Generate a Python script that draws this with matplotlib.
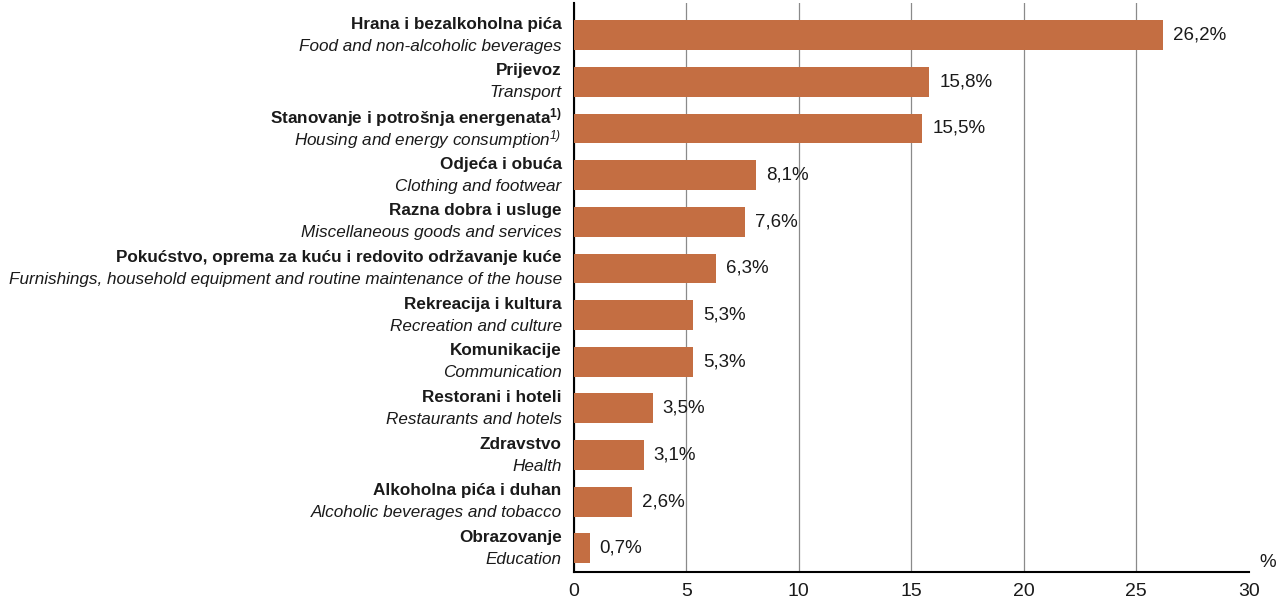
import matplotlib.pyplot as plt
from matplotlib import font_manager
from matplotlib.transforms import blended_transform_factory

names = [f.name for f in font_manager.fontManager.ttflist]
narrow = "Liberation Sans Narrow" if "Liberation Sans Narrow" in names else "Liberation Sans"
plt.rcParams['font.family'] = [narrow, 'DejaVu Sans']
plt.rcParams['mathtext.fontset'] = 'custom'
plt.rcParams['mathtext.rm'] = narrow
plt.rcParams['mathtext.it'] = narrow + ':italic'
plt.rcParams['mathtext.bf'] = narrow + ':bold'

labels_hr = ["Hrana i bezalkoholna pića", "Prijevoz",
             "Stanovanje i potrošnja energenata$^{\\mathregular{1)}}$",
             "Odjeća i obuća", "Razna dobra i usluge",
             "Pokućstvo, oprema za kuću i redovito održavanje kuće",
             "Rekreacija i kultura", "Komunikacije", "Restorani i hoteli",
             "Zdravstvo", "Alkoholna pića i duhan", "Obrazovanje"]
labels_en = ["Food and non-alcoholic beverages", "Transport",
             "Housing and energy consumption$^{\\mathregular{1)}}$",
             "Clothing and footwear", "Miscellaneous goods and services",
             "Furnishings, household equipment and routine maintenance of the house",
             "Recreation and culture", "Communication", "Restaurants and hotels",
             "Health", "Alcoholic beverages and tobacco", "Education"]
values = [26.2, 15.8, 15.5, 8.1, 7.6, 6.3, 5.3, 5.3, 3.5, 3.1, 2.6, 0.7]

fig = plt.figure(figsize=(12.78, 6.01), dpi=100)
ax = fig.add_axes([0.449, 0.048, 0.528, 0.947])

ypos = list(range(len(values)))
ax.barh(ypos, values, height=0.64, color="#C46E42", zorder=3)
ax.set_ylim(11.51, -0.69)
ax.set_xlim(0, 30)
ax.set_xticks([0, 5, 10, 15, 20, 25, 30])
ax.grid(axis='x', color='#8a8a8a', linewidth=0.9, zorder=0)
ax.get_xgridlines()[-1].set_visible(False)
ax.set_yticks([])
ax.tick_params(axis='x', length=0, labelsize=14, pad=8, labelcolor='#1a1a1a')
for s in ['top', 'right']:
    ax.spines[s].set_visible(False)
ax.spines['left'].set_linewidth(1.5)
ax.spines['bottom'].set_linewidth(1.5)

tr = blended_transform_factory(ax.transAxes, ax.transData)
for y, hr, en, v in zip(ypos, labels_hr, labels_en, values):
    ax.text(-0.018, y - 0.235, hr, transform=tr, ha='right', va='center',
            fontsize=12.3, fontweight='bold', color='#1a1a1a')
    ax.text(-0.018, y + 0.235, en, transform=tr, ha='right', va='center',
            fontsize=12.3, style='italic', color='#1a1a1a')
    ax.text(v + 0.45, y, f"{v:.1f}%".replace('.', ','), ha='left', va='center',
            fontsize=13.5, color='#1a1a1a')

ax.text(1.04, 11.3, "%", transform=tr, ha='right', va='center', fontsize=13.5,
        color='#1a1a1a')

fig.savefig("out.png", dpi=100)
